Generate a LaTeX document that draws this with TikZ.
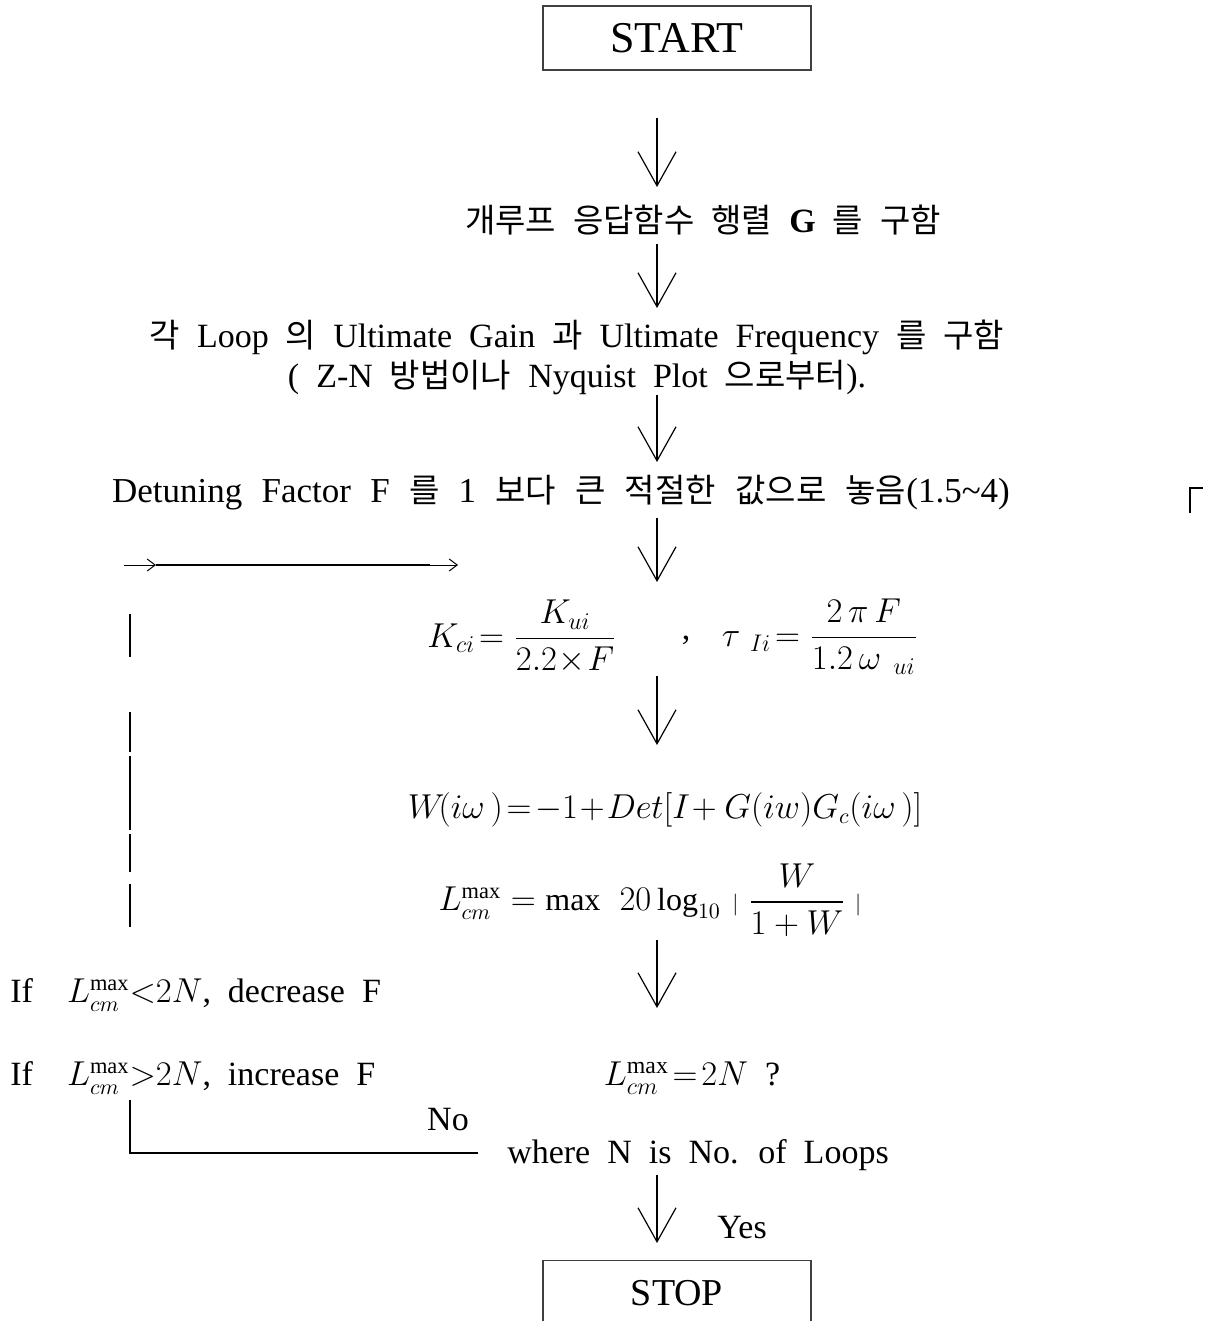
\documentclass[tikz,border=0pt]{standalone}
\usepackage{amsmath}
\usepackage{fontspec}
\setmainfont{Liberation Serif}
\newfontfamily\krfont{Noto Sans CJK KR}
\usepackage{tikz}
\usetikzlibrary{arrows.meta, positioning}
\newcommand{\ko}[1]{{\krfont\fontsize{16.5}{20}\selectfont #1}}
\newcommand{\widesp}{\spaceskip 0.5em plus 0.1em\relax}

\begin{document}
\begin{tikzpicture}[x=0.5pt, y=-0.5pt,
    termbox/.style={rectangle, draw=black!75, line width=0.6pt, minimum width=134pt, inner sep=0pt},
    txt/.style={inner sep=1pt, align=center, font=\fontsize{17}{20}\selectfont\widesp},
    eqn/.style={inner sep=1pt, font=\fontsize{16}{19}\selectfont},
    flow/.style={-{Straight Barb[length=17pt, width=19pt]}, line width=0.6pt},
    loopline/.style={line width=1.4pt}
]
    \useasboundingbox (0,0) rectangle (1211,1321);

    % Start and stop
    \node[termbox, minimum height=32pt, font=\fontsize{22}{26}\selectfont] (start) at (677,38) {START};
    \node[termbox, minimum height=36pt, anchor=north, font=\fontsize{19}{22}\selectfont] (stop) at (677,1260) {};
    \node[font=\fontsize{19}{22}\selectfont] (stoptxt) at (677,1293) {STOP};

    % Steps
    \node[txt] (gopen) at (703,220) {\ko{개루프} \ko{응답함수} \ko{행렬} \textbf{G} \ko{를} \ko{구함}};
    \node[txt] (ult) at (577,357) {\ko{각} Loop \ko{의} Ultimate Gain \ko{과} Ultimate Frequency \ko{를} \ko{구함}\\
        ( Z-N \ko{방법이나} Nyquist Plot \ko{으로부터}).};
    \node[txt, font=\fontsize{17.5}{20}\selectfont\spaceskip 0.55em plus 0.1em\relax] (detune) at (561,493) {Detuning Factor F \ko{를} 1 \ko{보다} \ko{큰} \ko{적절한} \ko{값으로} \ko{놓음}(1.5\textasciitilde4)};
    \node[eqn, font=\fontsize{17}{20}\selectfont] (kci) at (522,637) {$K_{ci}\!=\dfrac{K_{ui}}{2.2\!\times\! F}$};
    \node[txt] (comma) at (686,640) {,};
    \node[eqn, font=\fontsize{17}{20}\selectfont] (tau) at (820,637) {$\tau_{\;\;Ii}\!=\dfrac{2\,\pi\, F}{1.2\,\omega_{\;\;ui}}$};
    \node[eqn] (wdet) at (665,810) {$W\!(i\omega\,)\!=\!-1\!+\!Det[I\!+G(iw)G_c(i\omega\,)]$};
    \node[eqn] (lmax) at (650,900) {$L_{cm}^{\max}=\text{max}\;\;20\log_{10}\,{\scriptstyle|}\;\dfrac{W}{1+W}\;{\scriptstyle|}$};
    \node[txt, anchor=west] (dec) at (8,995) {If \ {\fontsize{16}{18}\selectfont$L_{cm}^{\max}{<}2N$}, decrease F};
    \node[txt, anchor=west] (inc) at (8,1078) {If \ {\fontsize{16}{18}\selectfont$L_{cm}^{\max}{>}2N$}, increase F};
    \node[txt] (cond) at (692,1078) {$L_{cm}^{\max}\!=\!2N$ ?};
    \node[txt] (where) at (698,1155) {where N is No. of Loops};
    \node[txt] (no) at (448,1120) {No};
    \node[txt] (yes) at (742,1228) {Yes};

    % Flow arrows
    \foreach \a/\b [count=\i] in {118/187, 244/308, 395/462, 518/582, 676/745, 940/1008, 1175/1243} {
        \coordinate (s\i) at (657,\a);
        \coordinate (e\i) at (657,\b);
        \draw[flow] (s\i) -- (e\i);
    }

    % Feedback loop
    \coordinate (lpa) at (124,565);
    \coordinate (lpb) at (156,565);
    \coordinate (lpc) at (430,565);
    \coordinate (lpd) at (458,565);
    \draw[-{Straight Barb[length=4pt, width=6pt]}, line width=0.5pt] (lpa) -- (lpb);
    \draw[loopline] (lpb) -- (lpc);
    \draw[-{Straight Barb[length=4pt, width=6pt]}, line width=0.5pt] (lpc) -- (lpd);
    \foreach \a/\b in {614/657, 712/752, 756/830, 834/872, 884/927} {
        \draw[loopline] (130,\a) -- (130,\b);
    }
    \coordinate (lpe) at (130,1100);
    \coordinate (lpf) at (130,1153);
    \coordinate (lpg) at (478,1153);
    \draw[loopline] (lpe) -- (lpf) -- (lpg);

    % Corner mark
    \draw[line width=1.4pt] (1190,513) -- (1190,488) -- (1203,488);
\end{tikzpicture}
\end{document}
